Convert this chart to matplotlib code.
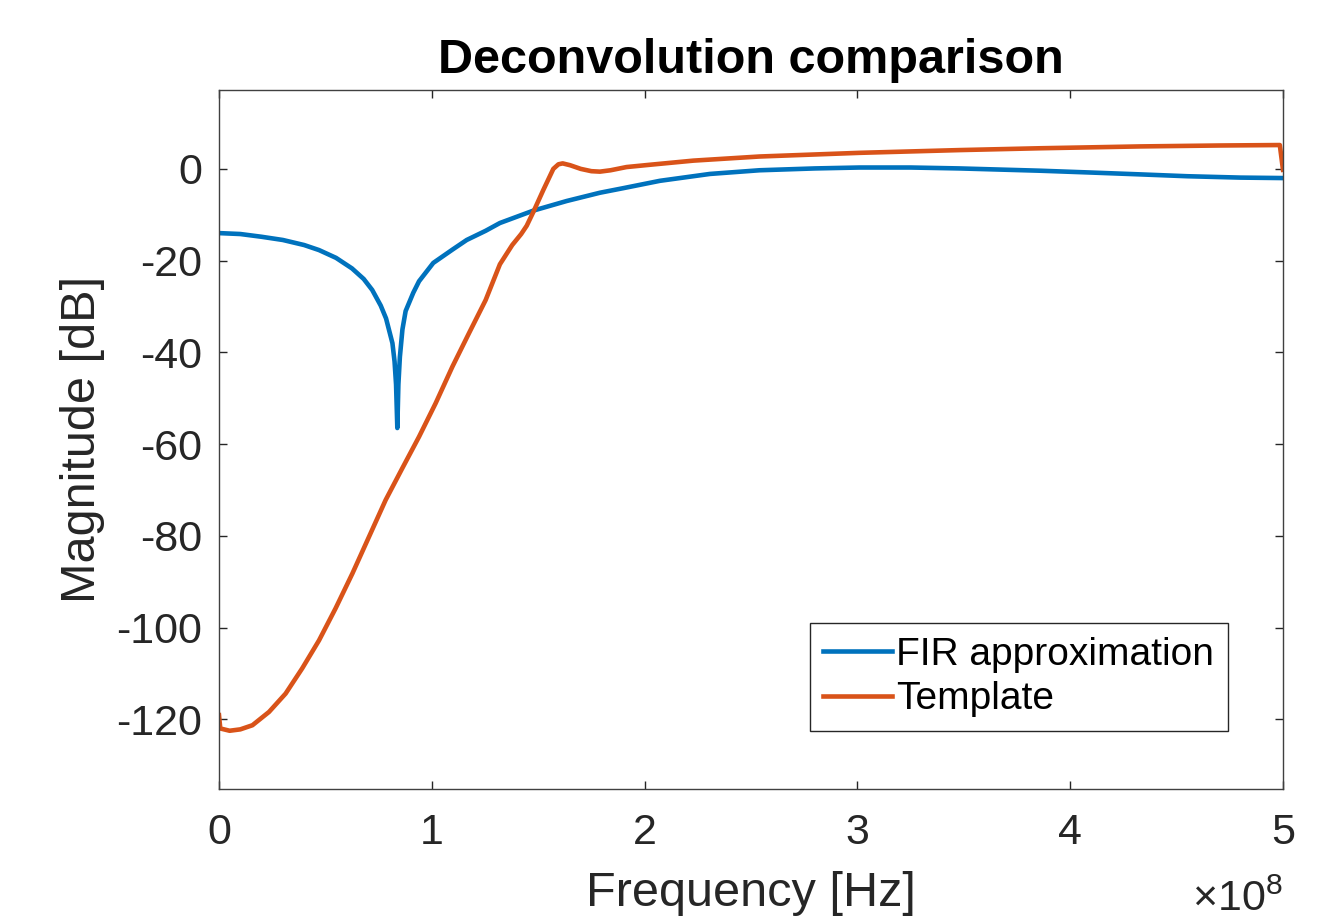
import matplotlib
matplotlib.use("Agg")
import matplotlib.pyplot as plt
from matplotlib.ticker import FuncFormatter

plt.rcParams["font.family"] = ["Liberation Sans", "DejaVu Sans"]
plt.rcParams["mathtext.fontset"] = "custom"
plt.rcParams["mathtext.rm"] = "Liberation Sans"
plt.rcParams["axes.unicode_minus"] = False

# FIR approximation magnitude response (frequency in units of 1e8 Hz, dB)
fir_freq = [0.0, 0.1, 0.2, 0.3, 0.4, 0.47, 0.55, 0.625, 0.68, 0.72, 0.76, 0.785,
            0.815, 0.825, 0.832, 0.838, 0.843, 0.85, 0.862, 0.877, 0.913, 0.94,
            1.007, 1.097, 1.164, 1.253, 1.32, 1.477, 1.634, 1.79, 1.9, 2.072,
            2.307, 2.54, 2.8, 3.01, 3.25, 3.48, 3.86, 4.1, 4.33, 4.55, 4.8, 5.0]
fir_db = [-14.0, -14.2, -14.8, -15.5, -16.6, -17.7, -19.4, -21.7, -24.0, -26.4,
          -29.8, -32.6, -38.0, -42.0, -47.0, -56.5, -47.0, -41.0, -35.0, -31.0,
          -27.0, -24.5, -20.5, -17.6, -15.5, -13.5, -11.8, -9.1, -7.0, -5.2,
          -4.2, -2.6, -1.1, -0.3, 0.1, 0.3, 0.3, 0.1, -0.4, -0.8, -1.2, -1.6,
          -1.9, -2.0]

# Template magnitude response
tmpl_freq = [0.0, 0.006, 0.05, 0.1, 0.157, 0.235, 0.313, 0.391, 0.47, 0.548,
             0.627, 0.705, 0.783, 0.861, 0.94, 1.018, 1.097, 1.175, 1.253, 1.32,
             1.378, 1.42, 1.446, 1.477, 1.524, 1.571, 1.595, 1.615, 1.65, 1.70,
             1.75, 1.79, 1.84, 1.915, 2.025, 2.229, 2.54, 3.01, 3.48, 3.86, 4.33,
             4.7, 4.985, 5.0]
tmpl_db = [-119.1, -122.0, -122.5, -122.2, -121.3, -118.4, -114.4, -108.9,
           -102.8, -95.8, -88.2, -80.2, -72.2, -65.3, -58.4, -51.1, -43.1, -35.8,
           -28.6, -20.8, -16.6, -14.2, -12.4, -9.4, -4.6, 0.0, 1.0, 1.2, 0.8, 0.0,
           -0.5, -0.6, -0.3, 0.4, 0.9, 1.8, 2.7, 3.5, 4.1, 4.5, 4.9, 5.1, 5.2, -0.2]

fir_hz = [f * 1e8 for f in fir_freq]
tmpl_hz = [f * 1e8 for f in tmpl_freq]

fig = plt.figure(figsize=(13.24, 9.19), dpi=100)
ax = fig.add_axes([219 / 1324, 1 - 789 / 919, 1064 / 1324, 699 / 919])

ax.plot(fir_hz, fir_db, color="#0072BD", lw=3.3, solid_joinstyle="round",
        label="FIR approximation")
ax.plot(tmpl_hz, tmpl_db, color="#D95319", lw=3.3, solid_joinstyle="round",
        label="Template")

ax.set_xlim(0, 5e8)
ax.set_ylim(-135.2, 17.2)
ax.set_yticks(range(-120, 1, 20))
ax.set_xticks([0, 1e8, 2e8, 3e8, 4e8, 5e8])
ax.xaxis.set_major_formatter(FuncFormatter(lambda v, p: f"{v / 1e8:g}"))

edge = "#262626"
for s in ax.spines.values():
    s.set_color("#404040")
    s.set_linewidth(1.0)
ax.tick_params(direction="in", length=6, width=1.0, colors=edge,
               labelsize=31, top=True, right=True)
ax.tick_params(axis="x", pad=17)
ax.tick_params(axis="y", pad=12)

ax.set_xlabel("Frequency [Hz]", fontsize=35, color=edge, labelpad=13)
ax.set_ylabel("Magnitude [dB]", fontsize=35, color=edge, labelpad=8)
ax.set_title("Deconvolution comparison", fontsize=35, fontweight="bold", pad=12)

# exponent label, MATLAB style
ax.text(1.0, (789 - 911) / 699, r"$\times$10$^{8}$", transform=ax.transAxes,
        ha="right", va="baseline", fontsize=31, color=edge)

leg = ax.legend(loc="lower right", bbox_to_anchor=(0.948, 0.083), borderaxespad=0,
                fontsize=28, fancybox=False, framealpha=1, edgecolor=edge,
                handlelength=1.75, handletextpad=0.12, borderpad=0.35,
                labelspacing=0.22)
leg.get_frame().set_linewidth(1.0)

fig.savefig("out.png", dpi=100)
